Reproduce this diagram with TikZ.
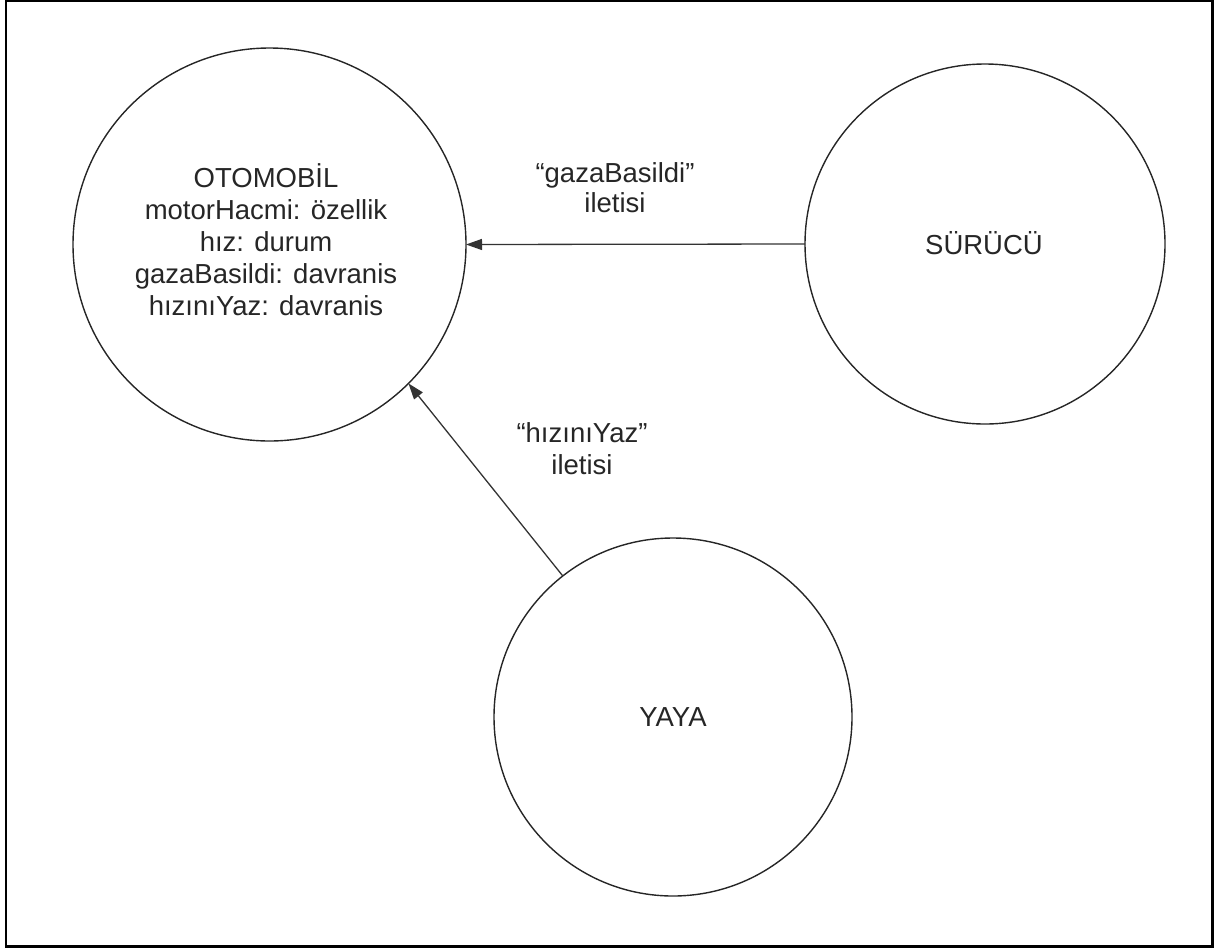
\documentclass[tikz,border=0pt]{standalone}
\usepackage{fontspec}
\setmainfont{Liberation Sans}
\usetikzlibrary{arrows.meta}
\begin{document}
\begin{tikzpicture}[x=1pt,y=-1pt,
  every node/.style={font=\fontsize{27.5}{32}\selectfont, text=black!85},
  actor/.style={circle, draw=black!85, line width=1.4pt, inner sep=0pt, outer sep=0pt},
  msg/.style={draw=black!80, line width=1.3pt, -{Triangle[length=16pt,width=11pt]}},
  lbl/.style={align=center, inner sep=0pt}
]
\useasboundingbox (0,0) rectangle (1218,951);
\draw[line width=2.6pt] (6,1) rectangle (1212.5,946.5);

% the three objects
\node[actor, minimum size=393pt] (oto) at (269.5,244.5) {};
\node[lbl] (otoText) at (266,240) {OTOMOBİL\\motorHacmi: özellik\\hız: durum\\gazaBasildi: davranis\\hızınıYaz: davranis};

\node[actor, minimum size=360pt] (surucu) at (985,244) {};
\node[lbl] (surucuText) at (984,243) {SÜRÜCÜ};

\node[actor, minimum size=358pt] (yaya) at (673,717) {};
\node[lbl] (yayaText) at (673,717) {YAYA};

% messages
\draw[msg] (surucu.west) -- (oto.east);
\draw[msg] (yaya.128.6) -- (oto.-45);

\node[lbl, font=\fontsize{27.5}{30}\selectfont] (m1) at (615,188) {“gazaBasildi”\\iletisi};
\node[lbl, font=\fontsize{27.5}{32}\selectfont] (m2) at (582,449) {“hızınıYaz”\\iletisi};
\end{tikzpicture}
\end{document}
